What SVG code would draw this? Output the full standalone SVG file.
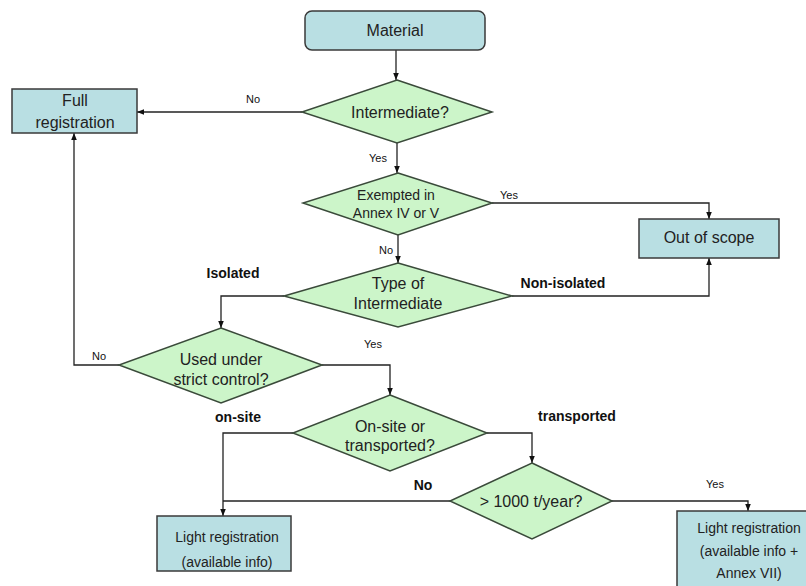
<svg xmlns="http://www.w3.org/2000/svg" width="806" height="586" viewBox="0 0 806 586">
<defs>
<marker id="ah" viewBox="0 0 10 10" refX="10" refY="5" markerWidth="7" markerHeight="7" orient="auto" markerUnits="userSpaceOnUse">
<path d="M0,1 L10,5 L0,9 z" fill="#111"/>
</marker>
<style>
.box{fill:#b9dfe3;stroke:#3a3a3a;stroke-width:1.5}
.dia{fill:#ccf5c9;stroke:#3a4a3a;stroke-width:1.5}
.t{font-family:"Liberation Sans",Arial,sans-serif;font-size:16px;fill:#222;text-anchor:middle}
.ts{font-family:"Liberation Sans",Arial,sans-serif;font-size:14px;fill:#222;text-anchor:middle}
.l{font-family:"Liberation Sans",Arial,sans-serif;font-size:11px;fill:#111;text-anchor:middle}
.lb{font-family:"Liberation Sans",Arial,sans-serif;font-size:14px;font-weight:bold;fill:#111;text-anchor:middle}
.c{fill:none;stroke:#222;stroke-width:1.3;marker-end:url(#ah)}
</style>
</defs>
<rect width="806" height="586" fill="#fff"/>
<g id="connectors">
<path class="c" d="M396,50 V80"/>
<path class="c" d="M302,112 H137"/>
<path class="c" d="M397,143 V173"/>
<path class="c" d="M492,203 H709 V219"/>
<path class="c" d="M398,235 V263"/>
<path class="c" d="M512,296 H709 V258"/>
<path class="c" d="M284,296 H221 V328"/>
<path class="c" d="M119,365 H74 V133"/>
<path class="c" d="M322,365 H390 V395"/>
<path class="c" d="M293,433 H223 V516"/>
<path class="c" d="M487,433 H532 V463"/>
<path fill="none" stroke="#222" stroke-width="1.3" d="M450,501 H223"/>
<path class="c" d="M612,501 H748 V511"/>
</g>
<g id="labels">
<text class="l" x="253" y="103">No</text>
<text class="l" x="378" y="162">Yes</text>
<text class="l" x="509" y="199">Yes</text>
<text class="l" x="386" y="254">No</text>
<text class="lb" x="233" y="278">Isolated</text>
<text class="lb" x="563" y="288">Non-isolated</text>
<text class="l" x="99" y="360">No</text>
<text class="l" x="373" y="348">Yes</text>
<text class="lb" x="238" y="422">on-site</text>
<text class="lb" x="577" y="421">transported</text>
<text class="lb" x="423" y="490">No</text>
<text class="l" x="715" y="488">Yes</text>
</g>
<g id="material">
<rect class="box" x="305" y="11" width="180" height="39" rx="7"/>
<text class="t" x="395" y="36">Material</text>
</g>
<g id="intermediate">
<polygon class="dia" points="397,80 492,112 397,143 302,112"/>
<text class="t" x="400" y="118">Intermediate?</text>
</g>
<g id="full-registration">
<rect class="box" x="12" y="89" width="125" height="44"/>
<text class="t" x="75" y="106">Full</text>
<text class="t" x="75" y="128">registration</text>
</g>
<g id="exempted">
<polygon class="dia" points="398,173 492,203 398,235 303,203"/>
<text class="ts" x="396" y="200">Exempted in</text>
<text class="ts" x="396" y="218">Annex IV or V</text>
</g>
<g id="out-of-scope">
<rect class="box" x="639" y="219" width="140" height="39"/>
<text class="t" x="709" y="243">Out of scope</text>
</g>
<g id="type">
<polygon class="dia" points="398,263 512,296 398,327 284,296"/>
<text class="t" x="398" y="289">Type of</text>
<text class="t" x="398" y="309">Intermediate</text>
</g>
<g id="strict-control">
<polygon class="dia" points="221,328 322,365 221,403 119,365"/>
<text class="t" x="221" y="365">Used under</text>
<text class="t" x="221" y="385">strict control?</text>
</g>
<g id="onsite">
<polygon class="dia" points="390,395 487,433 390,471 293,433"/>
<text class="t" x="390" y="432">On-site or</text>
<text class="t" x="390" y="451">transported?</text>
</g>
<g id="tonnage">
<polygon class="dia" points="532,463 612,501 532,539 450,501"/>
<text class="t" x="531" y="507">&gt; 1000 t/year?</text>
</g>
<g id="light-registration-1">
<rect class="box" x="157" y="516" width="134" height="55"/>
<text class="ts" x="227" y="542">Light registration</text>
<text class="ts" x="227" y="567">(available info)</text>
</g>
<g id="light-registration-2">
<rect class="box" x="677" y="511" width="140" height="85"/>
<text class="ts" x="749" y="533">Light registration</text>
<text class="ts" x="749" y="556">(available info +</text>
<text class="ts" x="749" y="578">Annex VII)</text>
</g>
</svg>
